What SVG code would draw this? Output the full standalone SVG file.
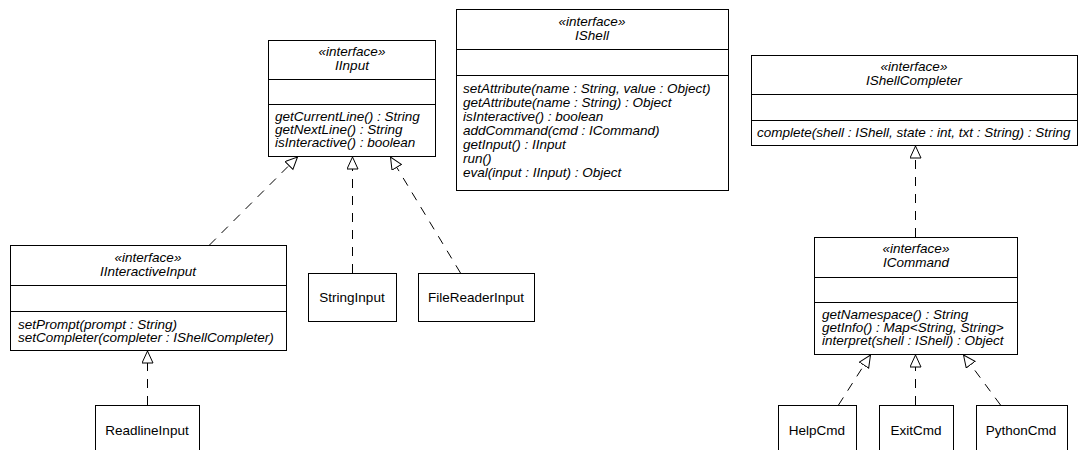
<svg xmlns="http://www.w3.org/2000/svg" width="1079" height="450" viewBox="0 0 1079 450">
  <style>
    .box { fill: #ffffff; stroke: #000000; stroke-width: 1; }
    .sep { stroke: #000000; stroke-width: 1; }
    .t { font-family: "Liberation Sans", Arial, sans-serif; font-size: 13.5px; fill: #000000; }
    .it { font-style: italic; }
    .c { text-anchor: middle; }
    .dep { fill: none; stroke: #000000; stroke-width: 1; stroke-dasharray: 9 8; marker-end: url(#realize); }
  </style>
  <defs>
    <!-- hollow triangle for interface realization -->
    <marker id="realize" markerUnits="userSpaceOnUse" markerWidth="16" markerHeight="16" refX="12.5" refY="6" orient="auto">
      <path d="M0.5,0.5 L12.5,6 L0.5,11.5 Z" fill="#ffffff" stroke="#000000" stroke-width="1" stroke-dasharray="none"/>
    </marker>
  </defs>
  <rect width="1079" height="450" fill="#ffffff"/>

  <g id="connectors">
    <line class="dep" x1="209.5" y1="245" x2="297.5" y2="157"/>
    <line class="dep" x1="352.5" y1="273" x2="352.5" y2="157"/>
    <line class="dep" x1="460.5" y1="273" x2="390.5" y2="157"/>
    <line class="dep" x1="147.5" y1="405" x2="147.5" y2="351"/>
    <line class="dep" x1="915.5" y1="237" x2="915.5" y2="146"/>
    <line class="dep" x1="838.5" y1="405" x2="870.5" y2="355"/>
    <line class="dep" x1="915.5" y1="405" x2="915.5" y2="355"/>
    <line class="dep" x1="1000.5" y1="405" x2="963.5" y2="355"/>
  </g>

  <g id="IInput">
    <rect class="box" x="268.5" y="40.5" width="167" height="116"/>
    <line class="sep" x1="268.5" y1="79.5" x2="435.5" y2="79.5"/>
    <line class="sep" x1="268.5" y1="104.5" x2="435.5" y2="104.5"/>
    <text class="t it c" x="352" y="56">«interface»</text>
    <text class="t it c" x="352" y="70">IInput</text>
    <text class="t it" x="275" y="121">getCurrentLine() : String</text>
    <text class="t it" x="275" y="134">getNextLine() : String</text>
    <text class="t it" x="275" y="147">isInteractive() : boolean</text>
  </g>

  <g id="IShell">
    <rect class="box" x="456.5" y="9.5" width="272" height="181"/>
    <line class="sep" x1="456.5" y1="49.5" x2="728.5" y2="49.5"/>
    <line class="sep" x1="456.5" y1="75.5" x2="728.5" y2="75.5"/>
    <text class="t it c" x="592" y="26">«interface»</text>
    <text class="t it c" x="592" y="40">IShell</text>
    <text class="t it" x="463" y="93">setAttribute(name : String, value : Object)</text>
    <text class="t it" x="463" y="107">getAttribute(name : String) : Object</text>
    <text class="t it" x="463" y="121">isInteractive() : boolean</text>
    <text class="t it" x="463" y="135">addCommand(cmd : ICommand)</text>
    <text class="t it" x="463" y="149">getInput() : IInput</text>
    <text class="t it" x="463" y="163">run()</text>
    <text class="t it" x="463" y="177">eval(input : IInput) : Object</text>
  </g>

  <g id="IShellCompleter">
    <rect class="box" x="751.5" y="55.5" width="326" height="90"/>
    <line class="sep" x1="751.5" y1="94.5" x2="1077.5" y2="94.5"/>
    <line class="sep" x1="751.5" y1="120.5" x2="1077.5" y2="120.5"/>
    <text class="t it c" x="914" y="71">«interface»</text>
    <text class="t it c" x="914" y="85">IShellCompleter</text>
    <text class="t it" x="757" y="137">complete(shell : IShell, state : int, txt : String) : String</text>
  </g>

  <g id="IInteractiveInput">
    <rect class="box" x="10.5" y="245.5" width="276" height="105"/>
    <line class="sep" x1="10.5" y1="285.5" x2="286.5" y2="285.5"/>
    <line class="sep" x1="10.5" y1="311.5" x2="286.5" y2="311.5"/>
    <text class="t it c" x="148" y="262">«interface»</text>
    <text class="t it c" x="148" y="276">IInteractiveInput</text>
    <text class="t it" x="18" y="328.5">setPrompt(prompt : String)</text>
    <text class="t it" x="18" y="341.5">setCompleter(completer : IShellCompleter)</text>
  </g>

  <g id="StringInput">
    <rect class="box" x="308.5" y="273.5" width="88" height="48"/>
    <text class="t c" x="352" y="302">StringInput</text>
  </g>

  <g id="FileReaderInput">
    <rect class="box" x="418.5" y="273.5" width="116" height="48"/>
    <text class="t c" x="476" y="302">FileReaderInput</text>
  </g>

  <g id="ReadlineInput">
    <rect class="box" x="95.5" y="405.5" width="104" height="60"/>
    <text class="t c" x="147" y="435">ReadlineInput</text>
  </g>

  <g id="ICommand">
    <rect class="box" x="814.5" y="237.5" width="203" height="117"/>
    <line class="sep" x1="814.5" y1="277.5" x2="1017.5" y2="277.5"/>
    <line class="sep" x1="814.5" y1="302.5" x2="1017.5" y2="302.5"/>
    <text class="t it c" x="916" y="253">«interface»</text>
    <text class="t it c" x="916" y="267">ICommand</text>
    <text class="t it" x="822" y="319">getNamespace() : String</text>
    <text class="t it" x="822" y="332">getInfo() : Map&lt;String, String&gt;</text>
    <text class="t it" x="822" y="345">interpret(shell : IShell) : Object</text>
  </g>

  <g id="HelpCmd">
    <rect class="box" x="778.5" y="405.5" width="78" height="60"/>
    <text class="t c" x="817" y="435">HelpCmd</text>
  </g>

  <g id="ExitCmd">
    <rect class="box" x="879.5" y="405.5" width="74" height="60"/>
    <text class="t c" x="916" y="435">ExitCmd</text>
  </g>

  <g id="PythonCmd">
    <rect class="box" x="976.5" y="405.5" width="91" height="60"/>
    <text class="t c" x="1021" y="435">PythonCmd</text>
  </g>
</svg>
